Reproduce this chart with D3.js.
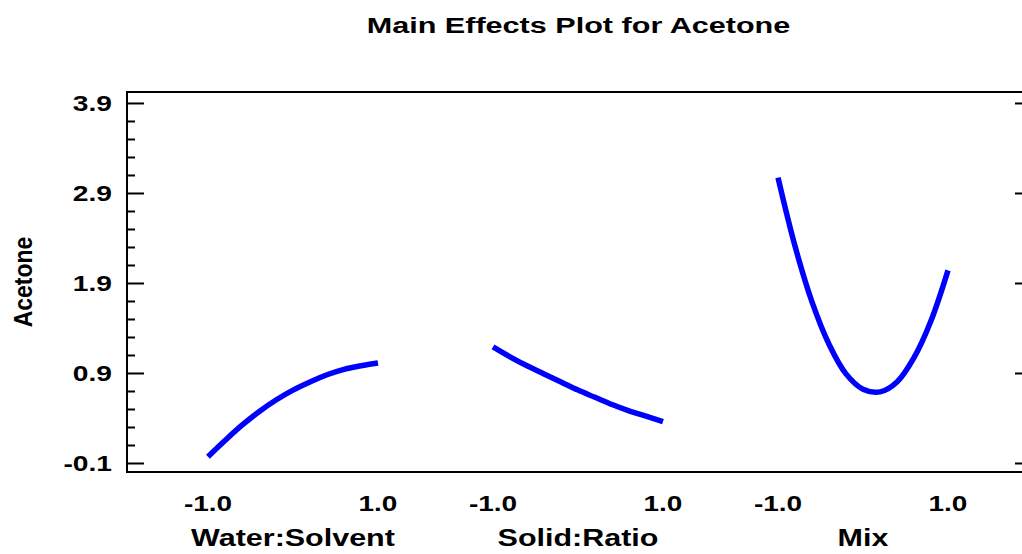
<!DOCTYPE html>
<html>
<head>
<meta charset="utf-8">
<script src="https://cdn.jsdelivr.net/npm/d3@7"></script>
<style>
  body { margin: 0; background: #fff; }
  svg { display: block; font-family: "Liberation Sans", Arial, sans-serif; font-weight: bold; }
</style>
</head>
<body>
<svg id="chart" width="1022" height="554"></svg>
<script>
// data
const factorNames = ["Water:Solvent", "Solid:Ratio", "Mix"];
const levels = [-1, -0.8, -0.6, -0.4, -0.2, 0, 0.2, 0.4, 0.6, 0.8, 1];
const waterSolvent = [-0.03, 0.15, 0.32, 0.47, 0.60, 0.71, 0.80, 0.88, 0.94, 0.98, 1.01];
const solidRatio = [1.19, 1.08, 0.98, 0.89, 0.80, 0.71, 0.63, 0.55, 0.48, 0.42, 0.36];
const mix = [3.07, 2.31, 1.69, 1.22, 0.89, 0.72, 0.69, 0.80, 1.07, 1.48, 2.04];
const yTicks = [-0.1, 0.9, 1.9, 2.9, 3.9];
const xTickLabels = ["-1.0", "1.0"];

const series = [waterSolvent, solidRatio, mix];

const svg = d3.select("#chart");
const frame = { left: 127, right: 1032, top: 92, bottom: 472 };

const y = d3.scaleLinear().domain([-0.2, 4.022]).range([frame.bottom, frame.top]);

// each factor gets its own -1..1 scale inside the shared frame
const panelStart = 208, panelStep = 285, panelWidth = 170;
const xScales = factorNames.map((f, i) =>
  d3.scaleLinear().domain([-1, 1]).range([panelStart + i * panelStep, panelStart + i * panelStep + panelWidth]));

// widen text horizontally like the original (which was stretched)
function stretch(sel, k) {
  sel.each(function () {
    const w = this.getComputedTextLength();
    d3.select(this).attr("textLength", w * k).attr("lengthAdjust", "spacingAndGlyphs");
  });
}

// title
svg.append("text")
  .attr("x", 578.5).attr("y", 33)
  .attr("text-anchor", "middle")
  .style("font-size", "22px")
  .text("Main Effects Plot for Acetone")
  .call(stretch, 1.39);

// frame
svg.append("rect")
  .attr("x", frame.left).attr("y", frame.top)
  .attr("width", frame.right - frame.left).attr("height", frame.bottom - frame.top)
  .attr("fill", "none").attr("stroke", "#000").attr("stroke-width", 2);

// minor ticks on the left
const minorTicks = yTicks.slice(0, -1).flatMap(v => [0.2, 0.4, 0.6, 0.8].map(d => +(v + d).toFixed(1)));

const leftMinor = svg.append("g")
  .attr("transform", `translate(${frame.left},0)`)
  .call(d3.axisLeft(y).tickValues(minorTicks).tickSizeInner(-8).tickSizeOuter(0).tickFormat(""));

const leftAxis = svg.append("g")
  .attr("transform", `translate(${frame.left},0)`)
  .call(d3.axisLeft(y).tickValues(yTicks).tickSizeInner(-17).tickSizeOuter(0).tickPadding(15)
    .tickFormat(d => d.toFixed(1)));

const rightAxis = svg.append("g")
  .attr("transform", `translate(${frame.right},0)`)
  .call(d3.axisLeft(y).tickValues(yTicks).tickSize(17).tickFormat(""));

[leftMinor, leftAxis, rightAxis].forEach(g => {
  g.select(".domain").remove();
  g.selectAll("line").attr("stroke", "#000").attr("stroke-width", 2);
});

leftAxis.selectAll("text")
  .attr("fill", "#000")
  .attr("dy", "0.36em")
  .style("font-size", "22px")
  .style("font-family", "'Liberation Sans', Arial, sans-serif")
  .style("font-weight", "bold")
  .call(stretch, 1.28);

// y axis title
svg.append("text")
  .attr("transform", "translate(32,282) scale(1.15,1) rotate(-90)")
  .attr("text-anchor", "middle")
  .style("font-size", "23px")
  .text("Acetone");

// x tick labels and factor names
factorNames.forEach((name, i) => {
  const x = xScales[i];
  svg.append("g").selectAll("text")
    .data([-1, 1])
    .join("text")
    .attr("x", d => x(d))
    .attr("y", 511)
    .attr("text-anchor", "middle")
    .style("font-size", "22px")
    .text((d, j) => xTickLabels[j])
    .call(stretch, 1.27);

  svg.append("text")
    .attr("x", (x(-1) + x(1)) / 2)
    .attr("y", 546)
    .attr("text-anchor", "middle")
    .style("font-size", "24px")
    .text(name)
    .call(stretch, 1.27);
});

// effect curves
factorNames.forEach((name, i) => {
  const x = xScales[i];
  const line = d3.line()
    .x((d, j) => x(levels[j]))
    .y(d => y(d))
    .curve(d3.curveCatmullRom);
  svg.append("path")
    .datum(series[i])
    .attr("d", line)
    .attr("fill", "none")
    .attr("stroke", "#0000ff")
    .attr("stroke-width", 5.5);
});
</script>
</body>
</html>
